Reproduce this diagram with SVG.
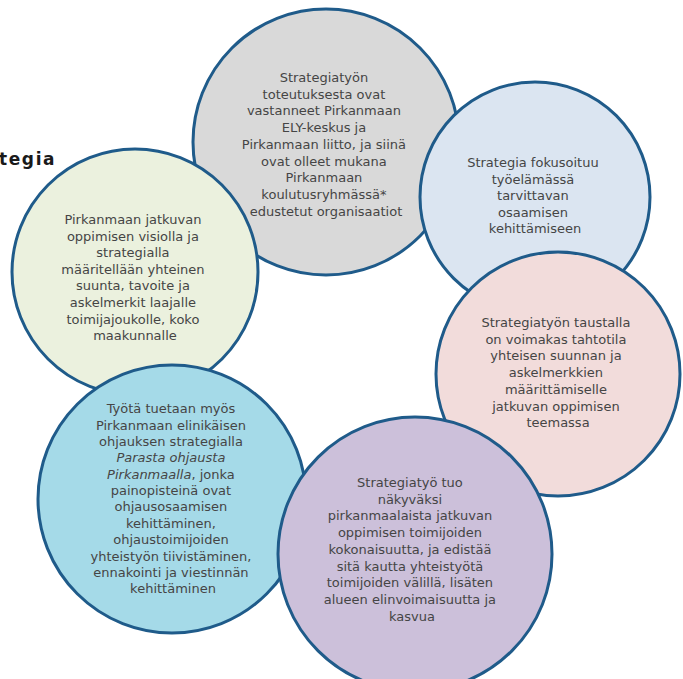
<svg xmlns="http://www.w3.org/2000/svg" width="683" height="679" viewBox="0 0 683 679">
<style>
  .c { stroke: #1f5b8a; stroke-width: 3; }
  .t { font-family: "DejaVu Sans", Verdana, sans-serif; font-size: 13px; fill: #454545; text-anchor: middle; }
  .i { font-style: italic; }
  .title { font-family: "DejaVu Sans", Verdana, sans-serif; font-size: 17px; font-weight: bold; fill: #1a1a1a; letter-spacing: 1.6px; }
</style>
<rect width="683" height="679" fill="#ffffff"/>
<text class="title" x="-1" y="165">tegia</text>
<g id="connectors"/>
<g id="node-gray">
  <circle class="c" cx="326" cy="142" r="133" fill="#d9d9d9"/>
  <text class="t">
    <tspan x="326" y="82">Strategiatyön</tspan>
    <tspan x="326" y="98.7">toteutuksesta ovat</tspan>
    <tspan x="326" y="115.4">vastanneet Pirkanmaan</tspan>
    <tspan x="326" y="132.1">ELY-keskus ja</tspan>
    <tspan x="326" y="148.8">Pirkanmaan liitto, ja siinä</tspan>
    <tspan x="326" y="165.5">ovat olleet mukana</tspan>
    <tspan x="326" y="182.2">Pirkanmaan</tspan>
    <tspan x="326" y="198.9">koulutusryhmässä*</tspan>
    <tspan x="326" y="215.6">edustetut organisaatiot</tspan>
  </text>
</g>
<g id="node-blue">
  <circle class="c" cx="535" cy="197" r="115" fill="#dbe5f1"/>
  <text class="t">
    <tspan x="535" y="167">Strategia fokusoituu</tspan>
    <tspan x="535" y="183.5">työelämässä</tspan>
    <tspan x="535" y="200">tarvittavan</tspan>
    <tspan x="535" y="216.5">osaamisen</tspan>
    <tspan x="535" y="233">kehittämiseen</tspan>
  </text>
</g>
<g id="node-pink">
  <circle class="c" cx="558" cy="374" r="122" fill="#f2dcdb"/>
  <text class="t">
    <tspan x="558" y="327">Strategiatyön taustalla</tspan>
    <tspan x="558" y="343.7">on voimakas tahtotila</tspan>
    <tspan x="558" y="360.4">yhteisen suunnan ja</tspan>
    <tspan x="558" y="377.1">askelmerkkien</tspan>
    <tspan x="558" y="393.8">määrittämiselle</tspan>
    <tspan x="558" y="410.5">jatkuvan oppimisen</tspan>
    <tspan x="558" y="427.2">teemassa</tspan>
  </text>
</g>
<g id="node-green">
  <circle class="c" cx="135" cy="272" r="123" fill="#ebf1de"/>
  <text class="t">
    <tspan x="135" y="224">Pirkanmaan jatkuvan</tspan>
    <tspan x="135" y="240.6">oppimisen visiolla ja</tspan>
    <tspan x="135" y="257.2">strategialla</tspan>
    <tspan x="135" y="273.8">määritellään yhteinen</tspan>
    <tspan x="135" y="290.4">suunta, tavoite ja</tspan>
    <tspan x="135" y="307">askelmerkit laajalle</tspan>
    <tspan x="135" y="323.6">toimijajoukolle, koko</tspan>
    <tspan x="135" y="340.2">maakunnalle</tspan>
  </text>
</g>
<g id="node-cyan">
  <circle class="c" cx="172" cy="499" r="134" fill="#a5dae8"/>
  <text class="t">
    <tspan x="173" y="413.3">Työtä tuetaan myös</tspan>
    <tspan x="173" y="429.7">Pirkanmaan elinikäisen</tspan>
    <tspan x="173" y="446">ohjauksen strategialla</tspan>
    <tspan x="173" y="462.4" class="i">Parasta ohjausta</tspan>
    <tspan x="173" y="478.7"><tspan class="i">Pirkanmaalla</tspan>, jonka</tspan>
    <tspan x="173" y="495.1">painopisteinä ovat</tspan>
    <tspan x="173" y="511.4">ohjausosaamisen</tspan>
    <tspan x="173" y="527.8">kehittäminen,</tspan>
    <tspan x="173" y="544.2">ohjaustoimijoiden</tspan>
    <tspan x="173" y="560.5">yhteistyön tiivistäminen,</tspan>
    <tspan x="173" y="576.9">ennakointi ja viestinnän</tspan>
    <tspan x="173" y="593.2">kehittäminen</tspan>
  </text>
</g>
<g id="node-purple">
  <circle class="c" cx="415" cy="554" r="137" fill="#ccc0da"/>
  <text class="t">
    <tspan x="412" y="487">Strategiatyö tuo</tspan>
    <tspan x="412" y="503.7">näkyväksi</tspan>
    <tspan x="412" y="520.4">pirkanmaalaista jatkuvan</tspan>
    <tspan x="412" y="537.1">oppimisen toimijoiden</tspan>
    <tspan x="412" y="553.8">kokonaisuutta, ja edistää</tspan>
    <tspan x="412" y="570.5">sitä kautta yhteistyötä</tspan>
    <tspan x="412" y="587.2">toimijoiden välillä, lisäten</tspan>
    <tspan x="412" y="603.9">alueen elinvoimaisuutta ja</tspan>
    <tspan x="412" y="620.6">kasvua</tspan>
  </text>
</g>
</svg>
